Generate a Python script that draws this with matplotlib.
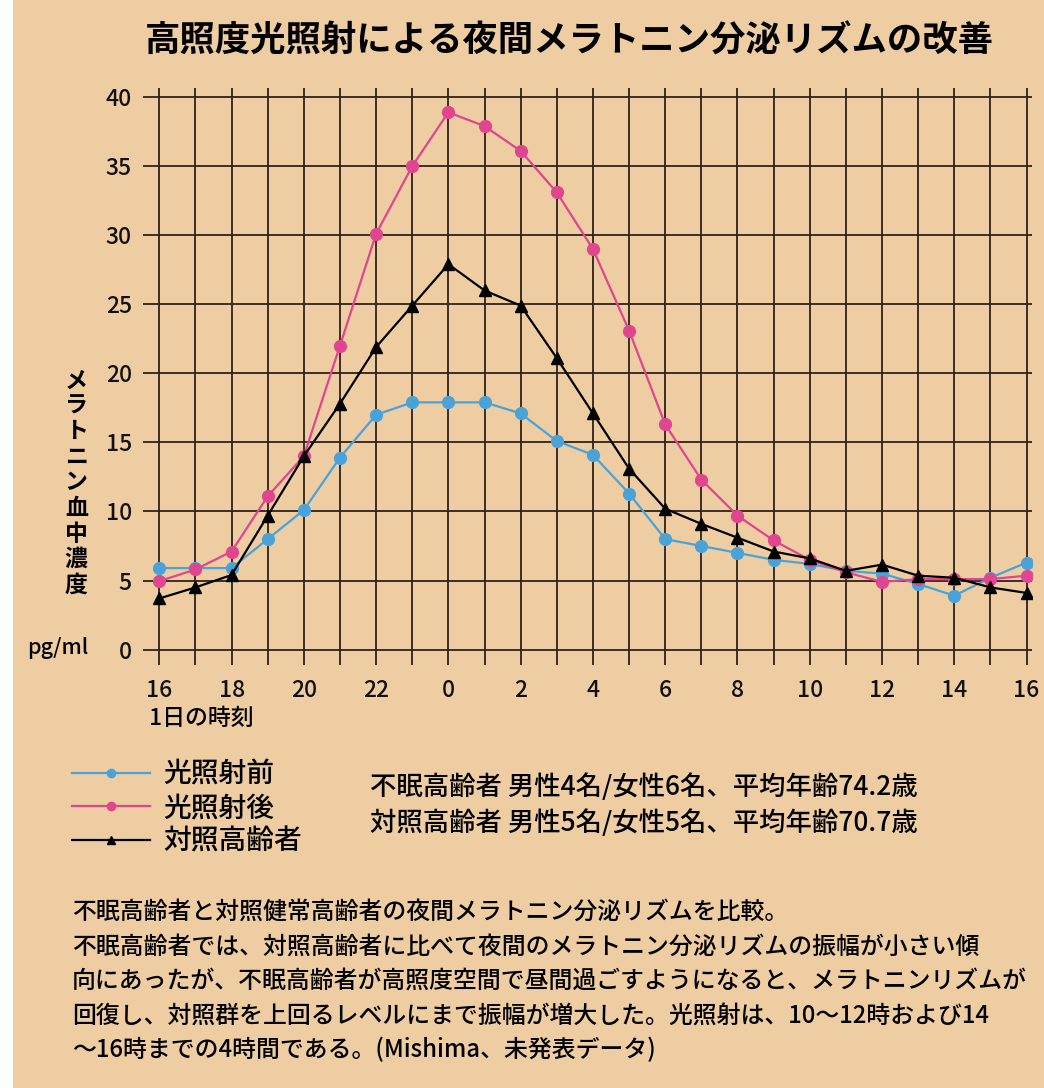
import matplotlib
matplotlib.use('Agg')
import matplotlib.pyplot as plt
from matplotlib.patches import Rectangle
import numpy as np

plt.rcParams['font.family'] = ['Noto Sans CJK JP', 'DejaVu Sans']

#データ (16時から翌16時まで1時間ごと)
hour_labels = ['16', '18', '20', '22', '0', '2', '4', '6', '8', '10', '12', '14', '16']
before = [5.9, 5.9, 5.9, 8.0, 10.1, 13.9, 17.0, 17.9, 17.9, 17.9, 17.1, 15.1, 14.1,
          11.3, 8.0, 7.5, 7.0, 6.5, 6.2, 5.7, 5.5, 4.75, 3.9, 5.2, 6.3]
after = [4.95, 5.8, 7.1, 11.1, 14.0, 22.0, 30.1, 35.0, 38.9, 37.9, 36.1, 33.1, 29.0,
         23.1, 16.3, 12.3, 9.7, 7.9, 6.5, 5.6, 4.9, 5.1, 5.1, 5.1, 5.35]
control = [3.7, 4.5, 5.4, 9.7, 14.0, 17.8, 21.9, 24.9, 27.9, 26.0, 24.9, 21.1, 17.1,
           13.1, 10.2, 9.1, 8.1, 7.1, 6.6, 5.7, 6.15, 5.35, 5.2, 4.5, 4.1]
series_names = ['光照射前', '光照射後', '対照高齢者']
x = np.arange(len(before))

bg = '#eecda3'
grid_c = '#2e2218'

fig = plt.figure(figsize=(10.44, 10.88), dpi=100, facecolor=bg)
#左端の白い余白
fig.add_artist(Rectangle((0, 0), 13/1044, 1, transform=fig.transFigure, facecolor='white',
                         edgecolor='none', zorder=10))

ax = fig.add_axes([0.137, 0.389, 0.8515, 0.530])
ax.set_facecolor(bg)

ax.plot(x, before, '-o', color='#4aa3d8', lw=1.6, ms=8.5, label=series_names[0], zorder=3)
ax.plot(x, after, '-o', color='#e0458f', lw=1.6, ms=8.5, label=series_names[1], zorder=4)
ax.plot(x, control, '-^', color='black', lw=1.6, ms=8.5, label=series_names[2], zorder=5)

ax.set_xlim(-0.45, 24.15)
ax.set_ylim(-1.1, 40.65)
ax.set_xticks(np.arange(0, 25, 2))
ax.set_xticklabels(hour_labels)
ax.set_xticks(np.arange(1, 25, 2), minor=True)
ax.set_yticks(np.arange(0, 41, 5))
ax.tick_params(length=0, which='both', labelsize=16.5, colors='#111111')
ax.tick_params(axis='x', pad=10)
ax.tick_params(axis='y', pad=8)
for lab in ax.get_xticklabels() + ax.get_yticklabels():
    lab.set_fontweight('medium')
for s in ax.spines.values():
    s.set_visible(False)
ax.grid(True, which='both', axis='x', color=grid_c, lw=1.3)
ax.grid(True, which='major', axis='y', color=grid_c, lw=1.3)
ax.set_axisbelow(True)

fig.text(0.545, 0.962, '高照度光照射による夜間メラトニン分泌リズムの改善',
         ha='center', va='center', fontsize=25.5, fontweight='bold')
fig.text(0.055, 1 - 648/1088, 'pg/ml', ha='center', va='center', fontsize=15.5, fontweight='medium')
fig.text(0.073, 1 - 483/1088, '\n'.join('メラトニン血中濃度'), ha='center', va='center',
         fontsize=16.5, fontweight='bold', linespacing=1.14)
fig.text(0.143, 1 - 718/1088, '1日の時刻', ha='left', va='center', fontsize=16.5, fontweight='medium')

ax.legend(loc='upper left', bbox_to_anchor=(0.045, 1 - 735/1088), bbox_transform=fig.transFigure,
          frameon=False, markerscale=0.7, handlelength=2.8, labelspacing=0.15,
          handletextpad=0.5, prop={'size': 20, 'weight': 'medium'})

fig.text(0.354, 1 - 787/1088, '不眠高齢者 男性4名/女性6名、平均年齢74.2歳', ha='left', va='center',
         fontsize=19, fontweight='medium')
fig.text(0.354, 1 - 823/1088, '対照高齢者 男性5名/女性5名、平均年齢70.7歳', ha='left', va='center',
         fontsize=19, fontweight='medium')

para = ['不眠高齢者と対照健常高齢者の夜間メラトニン分泌リズムを比較。',
        '不眠高齢者では、対照高齢者に比べて夜間のメラトニン分泌リズムの振幅が小さい傾',
        '向にあったが、不眠高齢者が高照度空間で昼間過ごすようになると、メラトニンリズムが',
        '回復し、対照群を上回るレベルにまで振幅が増大した。光照射は、10～12時および14',
        '～16時までの4時間である。(Mishima、未発表データ)']
for i, line in enumerate(para):
    fig.text(0.069, 1 - (912 + 34.5 * i)/1088, line, ha='left', va='center', fontsize=17.2,
             fontweight='medium')

fig.savefig('out.png', dpi=100, facecolor=bg)
